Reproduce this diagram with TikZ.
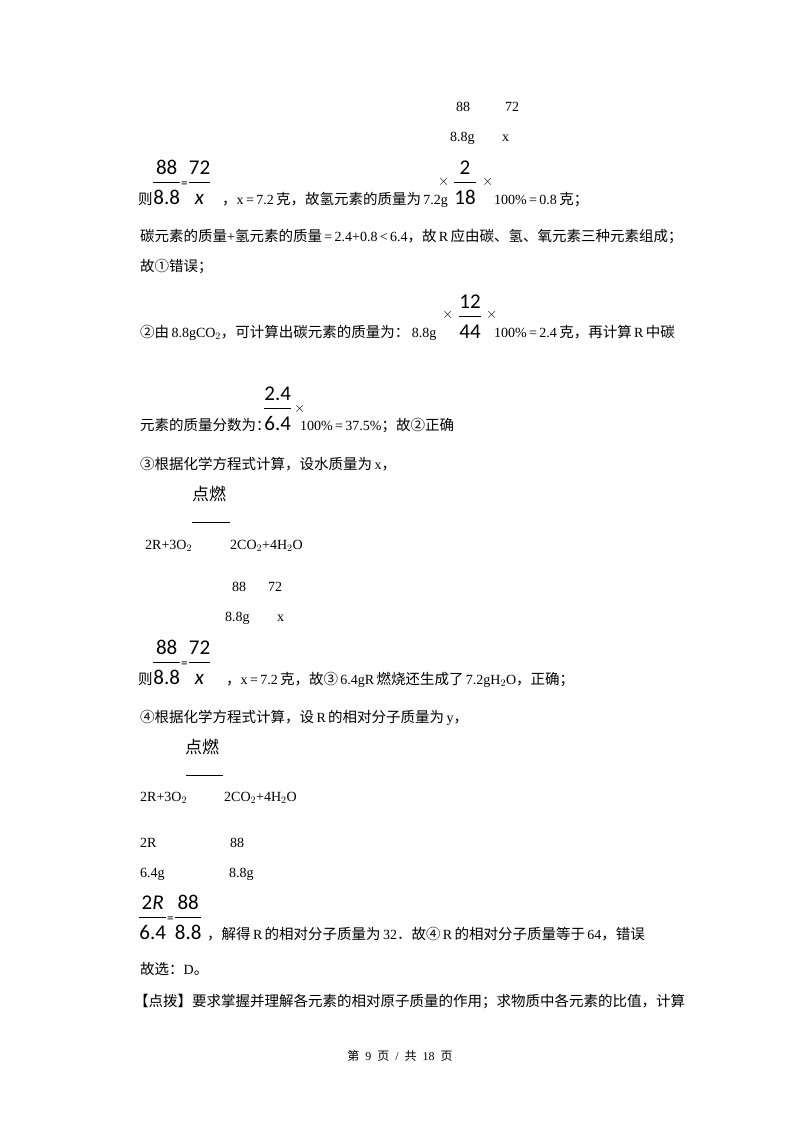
\documentclass[tikz,border=0pt]{standalone}
\usepackage{fontspec}
\usepackage{amsmath}
\setmainfont{Liberation Serif}
\newfontfamily\cjk{Noto Sans CJK SC}
\newfontfamily\carl{Carlito}
\newcommand{\fr}[2]{$\genfrac{}{}{0.5pt}{0}{\mbox{\carl\fontsize{21}{23}\selectfont #1\rule[-6pt]{0pt}{1pt}}}{\mbox{\carl\fontsize{21}{23}\selectfont\rule{0pt}{21pt}#2}}$}
\newcommand{\eqs}{\raisebox{-3pt}{\carl\fontsize{13}{15}\selectfont =}}
\newcommand{\zh}[1]{{\cjk\fontsize{14.5}{16}\selectfont #1}}
\begin{document}
\begin{tikzpicture}[x=1pt,y=-1pt,
  t/.style={anchor=base west,inner sep=0pt,font=\fontsize{14}{16}\selectfont},
  f/.style={anchor=south west,inner sep=0pt}]
\useasboundingbox[fill=white] (0,0) rectangle (800,1132);
% block 1
\node[t] (a1) at (456,111) {88};
\node[t] (a2) at (505,111) {72};
\node[t] (a3) at (450,141) {8.8g};
\node[t] (a4) at (502,141) {x};
\node[t] (z1) at (138,204) {\zh{则}};
\node[f] (f1) at (152,205) {\fr{88}{8.8}\eqs\fr{72}{\textit{x}}};
\node[t] (l1) at (222,204) {\zh{，}x\,=\,7.2\,\zh{克，故氢元素的质量为}\,7.2g};
\node[t] (m1) at (438,185) {$\times$};
\node[f] (f2) at (453,205) {\fr{2}{18}};
\node[t] (m2) at (482,185) {$\times$};
\node[t] (l1b) at (494,204) {100\%\,=\,0.8\,\zh{克；}};
\node[t] (l2) at (140,241) {\zh{碳元素的质量}+\zh{氢元素的质量}\,=\,2.4+0.8\,<\,6.4\zh{，故}\,R\,\zh{应由碳、氢、氧元素三种元素组成；}};
\node[t] (l3) at (140,271) {\zh{故①错误；}};
% block 2
\node[t] (l4) at (140,337) {\zh{②由}\,8.8gCO$_2$\zh{，可计算出碳元素的质量为：}\,8.8g};
\node[t] (m3) at (442,318) {$\times$};
\node[f] (f3) at (458,339) {\fr{12}{44}};
\node[t] (m4) at (486,318) {$\times$};
\node[t] (l4b) at (494,337) {100\%\,=\,2.4\,\zh{克，再计算}\,R\,\zh{中碳}};
\node[t] (l5) at (140,430) {\zh{元素的质量分数为：}};
\node[f] (f4) at (263,431) {\fr{2.4}{6.4}};
\node[t] (m5) at (294,412) {$\times$};
\node[t] (l5b) at (300,430) {100\%\,=\,37.5\%\zh{；故②正确}};
% block 3
\node[t] (l6) at (140,469) {\zh{③根据化学方程式计算，设水质量为}\,x\zh{，}};
\node[t] (d1) at (192,500) {\zh{\fontsize{17}{19}\selectfont 点燃}};
\coordinate (r1a) at (192,522); \coordinate (r1b) at (230,522);
\draw[line width=1pt] (r1a) -- (r1b);
\node[t] (e1) at (145,549) {2R+3O$_2$};
\node[t] (e2) at (230,549) {2CO$_2$+4H$_2$O};
\node[t] (b1) at (232,591) {88};
\node[t] (b2) at (268,591) {72};
\node[t] (b3) at (225,621) {8.8g};
\node[t] (b4) at (277,621) {x};
\node[t] (z2) at (138,684) {\zh{则}};
\node[f] (f5) at (152,685) {\fr{88}{8.8}\eqs\fr{72}{\textit{x}}};
\node[t] (l7) at (226,684) {\zh{，}x\,=\,7.2\,\zh{克，故③}\,6.4gR\,\zh{燃烧还生成了}\,7.2gH$_2$O\zh{，正确；}};
% block 4
\node[t] (l8) at (140,722) {\zh{④根据化学方程式计算，设}\,R\,\zh{的相对分子质量为}\,y\zh{，}};
\node[t] (d2) at (185,753) {\zh{\fontsize{17}{19}\selectfont 点燃}};
\coordinate (r2a) at (186,775); \coordinate (r2b) at (223,775);
\draw[line width=1pt] (r2a) -- (r2b);
\node[t] (e3) at (140,801) {2R+3O$_2$};
\node[t] (e4) at (224,801) {2CO$_2$+4H$_2$O};
\node[t] (c1) at (140,847) {2R};
\node[t] (c2) at (230,847) {88};
\node[t] (c3) at (140,877) {6.4g};
\node[t] (c4) at (229,877) {8.8g};
\node[f] (f6) at (138,940) {\fr{2\textit{R}}{6.4}\eqs\fr{88}{8.8}};
\node[t] (l9) at (207,939) {\zh{，解得}\,R\,\zh{的相对分子质量为}\,32\zh{．故④}\,R\,\zh{的相对分子质量等于}\,64\zh{，错误}};
\node[t] (l10) at (140,974) {\zh{故选：}D\zh{。}};
\node[t] (l11) at (134,1006) {\zh{【点拨】要求掌握并理解各元素的相对原子质量的作用；求物质中各元素的比值，计算}};
\node[anchor=base,inner sep=0pt,font=\fontsize{12}{14}\selectfont] (ft) at (400,1060) {\zh{\fontsize{12}{14}\selectfont 第}\ \ 9\ \ \zh{\fontsize{12}{14}\selectfont 页}\ \ /\ \ \zh{\fontsize{12}{14}\selectfont 共}\ \ 18\ \ \zh{\fontsize{12}{14}\selectfont 页}};
\end{tikzpicture}
\end{document}
